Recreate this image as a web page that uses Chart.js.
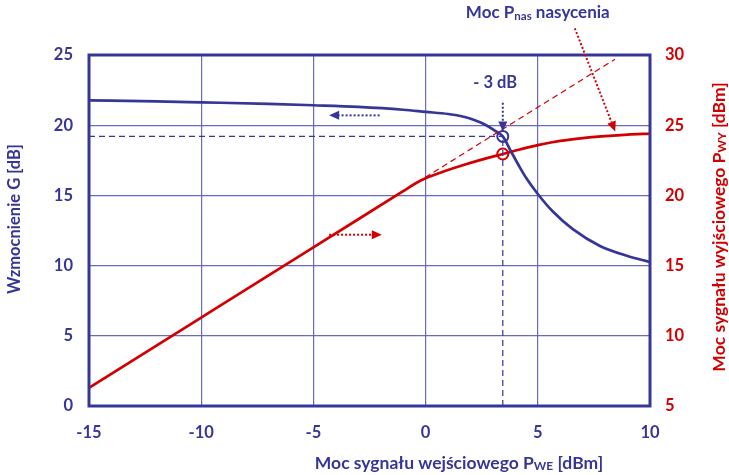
<!DOCTYPE html>
<html>
<head>
<meta charset="utf-8">
<script src="https://cdn.jsdelivr.net/npm/chart.js@4/dist/chart.umd.min.js"></script>
<style>
html, body { margin: 0; padding: 0; background: #fff; }
#wrap { width: 729px; height: 475px; }
</style>
</head>
<body>
<div id="wrap"><canvas id="c"></canvas></div>
<script>
// gain curve G [dB] vs input power P_WE [dBm]
const gainX = [-15, -12, -10, -7, -5, -3, -1, 0, 1, 1.7, 2.2, 2.7, 3.1, 3.44, 3.8, 4.2, 4.5, 5.0, 5.67, 6.56, 7.77, 8.97, 10]
const gainY = [21.77, 21.7, 21.63, 21.52, 21.42, 21.3, 21.1, 20.95, 20.8, 20.6, 20.35, 20.0, 19.6, 19.2, 18.15, 17.0, 16.2, 15.1, 13.85, 12.6, 11.4, 10.7, 10.25]
// output power P_WY [dBm] vs input power
const outX = [-15, -10, -5, -1, -0.4, 0, 0.8, 1.65, 2.5, 3.44, 4.2, 5, 6, 7, 8, 9, 10]
const outY = [6.3, 11.3, 16.3, 20.3, 20.9, 21.22, 21.7, 22.15, 22.55, 22.95, 23.27, 23.58, 23.88, 24.08, 24.22, 24.33, 24.4]
// linear extension (dashed)
const lineX = [-0.4, 8.44]
const lineY = [20.9, 29.7]
// -3 dB point
const p3dB = 3.44
const g3dB = 19.2
const out3dB = 22.95

const xTicks = [-15, -10, -5, 0, 5, 10]
const blue = '#363699'
const red = '#d20000'
const grid = '#6a6abd'

function pts(xs, ys) { return xs.map((x, i) => ({x: x, y: ys[i]})) }

const FONT = 'Lato, "Open Sans", sans-serif'

function richText(ctx, parts, x, y, size, color, align) {
  ctx.save()
  ctx.fillStyle = color
  ctx.textBaseline = 'middle'
  ctx.textAlign = 'left'
  let w = 0
  parts.forEach(p => {
    ctx.font = 'bold ' + (p.sub ? size * 0.68 : size) + 'px ' + FONT
    w += ctx.measureText(p.t).width
  })
  let cx = align === 'center' ? x - w / 2 : x
  parts.forEach(p => {
    ctx.font = 'bold ' + (p.sub ? size * 0.68 : size) + 'px ' + FONT
    ctx.fillText(p.t, cx, p.sub ? y + size * 0.18 : y)
    cx += ctx.measureText(p.t).width
  })
  ctx.restore()
}

function arrow(ctx, x1, y1, x2, y2, color) {
  const a = Math.atan2(y2 - y1, x2 - x1)
  const L = 10, W = 4.5
  ctx.save()
  ctx.strokeStyle = color
  ctx.fillStyle = color
  ctx.lineWidth = 2
  ctx.setLineDash([2, 2])
  ctx.beginPath()
  ctx.moveTo(x1, y1)
  ctx.lineTo(x2 - L * Math.cos(a), y2 - L * Math.sin(a))
  ctx.stroke()
  ctx.setLineDash([])
  ctx.beginPath()
  ctx.moveTo(x2, y2)
  ctx.lineTo(x2 - L * Math.cos(a) + W * Math.sin(a), y2 - L * Math.sin(a) - W * Math.cos(a))
  ctx.lineTo(x2 - L * Math.cos(a) - W * Math.sin(a), y2 - L * Math.sin(a) + W * Math.cos(a))
  ctx.closePath()
  ctx.fill()
  ctx.restore()
}

const extras = {
  id: 'extras',
  afterDraw(chart) {
    const ctx = chart.ctx
    const a = chart.chartArea
    const sx = chart.scales.x, sy = chart.scales.y, sy1 = chart.scales.y1
    // frame
    ctx.save()
    ctx.strokeStyle = blue
    ctx.lineWidth = 3
    ctx.strokeRect(a.left, a.top, a.right - a.left, a.bottom - a.top)
    ctx.restore()

    // arrows
    arrow(ctx, sx.getPixelForValue(-2.05), sy.getPixelForValue(20.7), sx.getPixelForValue(-4.3), sy.getPixelForValue(20.7), blue)
    arrow(ctx, sx.getPixelForValue(-4.3), sy.getPixelForValue(12.2), sx.getPixelForValue(-1.95), sy.getPixelForValue(12.2), red)
    arrow(ctx, sx.getPixelForValue(p3dB), sy.getPixelForValue(21.6), sx.getPixelForValue(p3dB), sy.getPixelForValue(19.55), blue)
    arrow(ctx, sx.getPixelForValue(6.65), sy1.getPixelForValue(31.9), sx.getPixelForValue(8.45), sy1.getPixelForValue(24.55), red)

    // labels
    richText(ctx, [{t: '- 3 dB'}], sx.getPixelForValue(3.1), sy.getPixelForValue(23.0), 16.5, blue, 'center')
    richText(ctx, [{t: 'Moc P'}, {t: 'nas', sub: true}, {t: ' nasycenia'}], sx.getPixelForValue(5.0), sy.getPixelForValue(28.0), 17, blue, 'center')

    // axis titles
    richText(ctx, [{t: 'Moc sygnału wejściowego P'}, {t: 'WE', sub: true}, {t: ' [dBm]'}], 459, 463, 17.5, blue, 'center')
    ctx.save()
    ctx.translate(15, 219)
    ctx.rotate(-Math.PI / 2)
    richText(ctx, [{t: 'Wzmocnienie G [dB]'}], 0, 0, 16.5, blue, 'center')
    ctx.restore()
    ctx.save()
    ctx.translate(719, 227)
    ctx.rotate(-Math.PI / 2)
    richText(ctx, [{t: 'Moc sygnału wyjściowego P'}, {t: 'WY', sub: true}, {t: ' [dBm]'}], 0, 0, 17.5, red, 'center')
    ctx.restore()
  }
}

const tickFont = {family: FONT, size: 16.5, weight: 'bold'}

new Chart(document.getElementById('c'), {
  type: 'line',
  data: {
    datasets: [
      {data: pts([-15, p3dB], [g3dB, g3dB]), yAxisID: 'y', borderColor: blue, borderWidth: 1.2, borderDash: [6, 4], pointRadius: 0},
      {data: pts([p3dB, p3dB], [0, g3dB]), yAxisID: 'y', borderColor: blue, borderWidth: 1.2, borderDash: [6, 4], pointRadius: 0},
      {data: pts(lineX, lineY), yAxisID: 'y1', borderColor: red, borderWidth: 1.2, borderDash: [6, 4], pointRadius: 0},
      {data: pts(gainX, gainY), yAxisID: 'y', borderColor: blue, borderWidth: 2.7, pointRadius: 0, cubicInterpolationMode: 'monotone'},
      {data: pts(outX, outY), yAxisID: 'y1', borderColor: red, borderWidth: 2.7, pointRadius: 0, cubicInterpolationMode: 'monotone'},
      {data: pts([p3dB], [g3dB]), yAxisID: 'y', showLine: false, pointRadius: 5.5, pointBorderWidth: 2, pointBorderColor: blue, pointBackgroundColor: '#fff'},
      {data: pts([p3dB], [out3dB]), yAxisID: 'y1', showLine: false, pointRadius: 5.5, pointBorderWidth: 2, pointBorderColor: red, pointBackgroundColor: '#fff'}
    ]
  },
  options: {
    responsive: true,
    maintainAspectRatio: false,
    animation: false,
    layout: {padding: {top: 55, left: 0, right: 0, bottom: 0}},
    plugins: {legend: {display: false}, tooltip: {enabled: false}},
    scales: {
      x: {
        type: 'linear', min: -15, max: 10,
        afterBuildTicks: s => { s.ticks = xTicks.map(v => ({value: v})) },
        afterFit: s => { s.height = 69 },
        ticks: {color: blue, font: tickFont, padding: 17},
        grid: {color: grid, lineWidth: 1.2, drawTicks: false},
        border: {display: false}
      },
      y: {
        position: 'left', min: 0, max: 25,
        afterFit: s => { s.width = 89 },
        ticks: {stepSize: 5, color: blue, font: tickFont, padding: 16},
        grid: {color: grid, lineWidth: 1.2, drawTicks: false},
        border: {display: false}
      },
      y1: {
        position: 'right', min: 5, max: 30,
        afterFit: s => { s.width = 79 },
        ticks: {stepSize: 5, color: red, font: tickFont, padding: 15},
        grid: {display: false, drawTicks: false},
        border: {display: false}
      }
    }
  },
  plugins: [extras]
})
</script>
</body>
</html>
